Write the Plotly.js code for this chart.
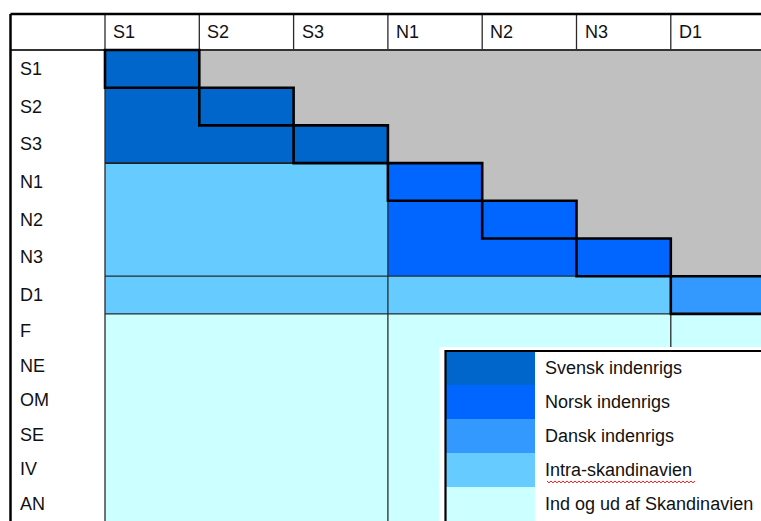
<!DOCTYPE html>
<html>
<head>
<meta charset="utf-8">
<script src="https://cdn.plot.ly/plotly-3.0.1.min.js"></script>
<style>html,body{margin:0;padding:0;background:#fff}#chart{width:761px;height:521px}</style>
</head>
<body>
<div id="chart"></div>
<script>
// ---------- data ----------
const rowLabels = ['S1','S2','S3','N1','N2','N3','D1','F','NE','OM','SE','IV','AN'];
const colLabels = ['S1','S2','S3','N1','N2','N3','D1'];
const categoryNames = ['Svensk indenrigs','Norsk indenrigs','Dansk indenrigs','Intra-skandinavien','Ind og ud af Skandinavien'];
const categoryColors = ['#0066CC','#0066FF','#3399FF','#66CCFF','#CCFFFF'];
const emptyColor = '#C0C0C0';
// 0 = not used (upper triangle), k = categoryNames[k-1]
const cellCodes = [
  [1,0,0,0,0,0,0],
  [1,1,0,0,0,0,0],
  [1,1,1,0,0,0,0],
  [4,4,4,2,0,0,0],
  [4,4,4,2,2,0,0],
  [4,4,4,2,2,2,0],
  [4,4,4,4,4,4,3],
  [5,5,5,5,5,5,5],
  [5,5,5,5,5,5,5],
  [5,5,5,5,5,5,5],
  [5,5,5,5,5,5,5],
  [5,5,5,5,5,5,5],
  [5,5,5,5,5,5,5]
];
// diagonal (domestic) blocks outlined in bold
const boldCells = [[0,0],[1,1],[2,2],[3,3],[4,4],[5,5],[6,6]];

// ---------- layout helpers ----------
const W = 761, H = 521;
const colW = 94.3, x0px = 105;           // left edge of first data column
const rowH = 37.7, y0px = 50;            // top edge of first data row
const lowerRowRatio = 0.915;             // rows below D1 are a bit shorter
const headerH = 36 / rowH;
const labelColLeft = (10.5 - x0px) / colW;

const yEdges = [0];
for (let i = 0; i < rowLabels.length; i++) {
  yEdges.push(yEdges[i] + (i < 7 ? 1 : lowerRowRatio));
}
const xEdges = colLabels.map((_, i) => i).concat([colLabels.length]);
const yCenter = i => (yEdges[i] + yEdges[i + 1]) / 2;

const xRange = [(0 - x0px) / colW, (W - x0px) / colW];
const yRange = [(H - y0px) / rowH, (0 - y0px) / rowH];

const PX = px => px / W;
const PY = py => 1 - py / H;

// discrete colorscale
const allColors = [emptyColor].concat(categoryColors);
const n = allColors.length;
const colorscale = [];
allColors.forEach((c, k) => {
  colorscale.push([k / n, c]);
  colorscale.push([(k + 1) / n, c]);
});

const trace = {
  type: 'heatmap',
  x: xEdges,
  y: yEdges,
  z: cellCodes,
  zmin: -0.5,
  zmax: n - 0.5,
  colorscale: colorscale,
  showscale: false,
  hoverinfo: 'skip'
};

const shapes = [];
const thin = {color: '#2a2a2a', width: 1.3};
const line = (x1, y1, x2, y2, l) => shapes.push({type: 'line', xref: 'x', yref: 'y', x0: x1, y0: y1, x1: x2, y1: y2, line: l});
const yBottom = yRange[0] + 1;

// header row
shapes.push({type: 'rect', xref: 'x', yref: 'y', x0: labelColLeft, x1: xRange[1] + 1, y0: -headerH, y1: 0, fillcolor: '#fff', line: {width: 0}, layer: 'below'});
for (let c = 0; c <= colLabels.length - 1; c++) line(c, -headerH, c, 0, thin);
line(labelColLeft, 0, xRange[1] + 1, 0, {color: '#333', width: 1.8});
line(labelColLeft, -headerH, xRange[1] + 1, -headerH, {color: '#000', width: 2.5});
line(labelColLeft, -headerH, labelColLeft, yBottom, {color: '#000', width: 2.5});
line(0, 0, 0, yBottom, thin);

// block separators
line(0, yEdges[3], 3, yEdges[3], {color: '#222', width: 1.6});
line(0, yEdges[6], 6, yEdges[6], thin);
line(0, yEdges[7], 6, yEdges[7], thin);
line(3, yEdges[3], 3, yBottom, thin);
line(6, yEdges[7], 6, yBottom, thin);

// bold domestic cells
boldCells.forEach(([r, c]) => {
  shapes.push({type: 'rect', xref: 'x', yref: 'y', x0: c, x1: c + 1, y0: yEdges[r], y1: yEdges[r + 1],
    line: {color: '#000', width: 2.6}, fillcolor: 'rgba(0,0,0,0)'});
});

// legend box
const lgL = 445.5, lgT = 351, swR = 535, swH = 34;
shapes.push({type: 'rect', xref: 'paper', yref: 'paper', x0: PX(439), x1: PX(W + 10), y0: PY(347), y1: PY(H + 10), fillcolor: '#fff', line: {width: 0}});
categoryColors.forEach((c, k) => {
  shapes.push({type: 'rect', xref: 'paper', yref: 'paper', x0: PX(lgL), x1: PX(swR), y0: PY(lgT + k * swH), y1: PY(lgT + (k + 1) * swH),
    fillcolor: c, line: {width: 0}});
});
shapes.push({type: 'rect', xref: 'paper', yref: 'paper', x0: PX(lgL), x1: PX(W + 10), y0: PY(lgT), y1: PY(H + 10),
  fillcolor: 'rgba(0,0,0,0)', line: {color: '#000', width: 2.2}});

// spell-check squiggle under "Intra-skandinavien"
let sq = 'M ' + PX(547) + ',' + PY(481);
for (let px = 547, k = 0; px < 694; px += 2, k++) {
  sq += ' L ' + PX(px + 2) + ',' + PY(k % 2 === 0 ? 482.8 : 481);
}
shapes.push({type: 'path', xref: 'paper', yref: 'paper', path: sq, line: {color: '#e02020', width: 1}});

// text
const font = {family: 'Liberation Sans, Arial, sans-serif', size: 18, color: '#111'};
const annotations = [];
colLabels.forEach((lab, c) => {
  annotations.push({xref: 'x', yref: 'y', x: c, y: -headerH / 2, text: lab, showarrow: false,
    xanchor: 'left', yanchor: 'middle', xshift: 6, font: font});
});
rowLabels.forEach((lab, r) => {
  annotations.push({xref: 'x', yref: 'y', x: labelColLeft, y: yCenter(r), text: lab, showarrow: false,
    xanchor: 'left', yanchor: 'middle', xshift: 7, font: font});
});
categoryNames.forEach((lab, k) => {
  annotations.push({xref: 'paper', yref: 'paper', x: PX(543), y: PY(lgT + (k + 0.5) * swH), text: lab, showarrow: false,
    xanchor: 'left', yanchor: 'middle', font: font});
});

const axisCommon = {showgrid: false, zeroline: false, showticklabels: false, showline: false, ticks: '', fixedrange: true};
const layout = {
  width: W, height: H, autosize: false,
  margin: {l: 0, r: 0, t: 0, b: 0, pad: 0},
  paper_bgcolor: '#fff', plot_bgcolor: '#fff',
  xaxis: Object.assign({range: xRange}, axisCommon),
  yaxis: Object.assign({range: yRange}, axisCommon),
  shapes: shapes,
  annotations: annotations,
  showlegend: false
};

Plotly.newPlot('chart', [trace], layout, {staticPlot: true, displayModeBar: false});
</script>
</body>
</html>
